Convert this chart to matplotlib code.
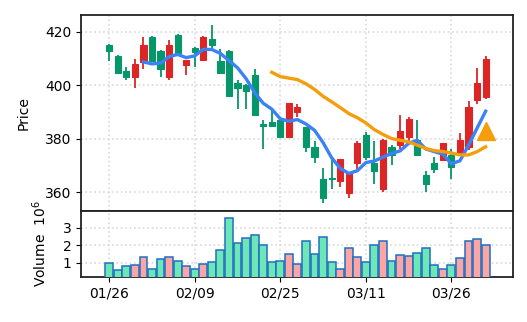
import matplotlib
matplotlib.use('Agg')
import matplotlib.pyplot as plt
import numpy as np
import pandas as pd

# ---- data (index = trading day) ----
opens = [415.2, 410.9, 405.2, 402.9, 408.7, 418.2, 412.9, 402.9, 418.9, 407.7,
         414.0, 409.6, 417.2, 409.2, 412.9, 400.9, 400.1, 404.0, 385.3, 386.1,
         386.9, 380.8, 389.8, 384.2, 376.9, 365.0, 365.2, 364.2, 359.8, 370.7,
         381.3, 371.0, 361.0, 376.9, 377.8, 380.7, 379.4, 366.3, 371.0, 371.9,
         373.9, 374.7, 376.7, 394.4, 395.6]
highs = [415.6, 411.2, 406.7, 409.7, 417.9, 418.5, 413.2, 416.9, 419.2, 409.6,
         414.3, 418.5, 422.6, 413.7, 413.2, 401.8, 400.6, 405.9, 387.0, 390.6,
         387.2, 393.5, 392.9, 384.5, 379.0, 369.0, 371.9, 372.5, 367.3, 379.0,
         382.3, 379.0, 379.7, 377.8, 388.8, 388.0, 386.9, 367.9, 373.0, 378.3,
         376.0, 382.0, 394.0, 406.6, 410.9]
lows = [409.0, 404.3, 401.9, 399.0, 406.2, 408.8, 403.1, 402.0, 411.8, 403.7,
        406.8, 409.3, 413.3, 404.5, 395.6, 391.0, 391.0, 388.5, 376.3, 384.2,
        380.6, 380.5, 388.1, 375.0, 371.0, 355.9, 361.3, 362.0, 357.9, 368.8,
        372.0, 363.2, 360.2, 370.2, 376.3, 378.2, 373.5, 360.2, 367.2, 371.6,
        365.0, 374.5, 375.7, 393.1, 395.0]
closes = [412.7, 404.7, 402.9, 408.1, 415.2, 409.1, 406.0, 415.2, 412.1, 409.3,
          412.4, 418.2, 414.9, 404.7, 395.9, 399.0, 397.8, 388.7, 384.9, 384.9,
          380.8, 393.2, 391.9, 376.7, 373.1, 357.7, 364.8, 372.2, 367.0, 378.2,
          373.0, 367.8, 379.4, 373.8, 383.0, 387.2, 373.7, 363.0, 368.8, 378.2,
          369.2, 379.4, 391.9, 400.9, 409.9]
volume_m = [0.96, 0.60, 0.79, 0.85, 1.31, 0.67, 1.19, 1.31, 1.08, 0.79,
            0.67, 0.90, 1.02, 1.71, 3.54, 2.12, 2.40, 2.58, 2.00, 1.02,
            1.08, 1.48, 0.90, 2.23, 1.50, 2.46, 1.02, 0.67, 1.83, 1.35,
            1.02, 2.00, 2.23, 1.10, 1.42, 1.37, 1.54, 1.83, 0.85, 0.65,
            0.85, 1.25, 2.23, 2.35, 2.00]
tick_pos = [0, 10, 20, 30, 40]
tick_labels = ['01/26', '02/09', '02/25', '03/11', '03/26']
signal_idx = 44
signal_price = 383.0

# ---- colours ----
UP = '#dc2626'
DOWN = '#059669'
VOL_UP = '#fca5a5'
VOL_DOWN = '#6ee7b7'
VOL_EDGE = '#1f6fc4'
MA5_C = '#3b82f6'
MA20_C = '#f59e0b'
GRID = dict(color='#d9d9d9', linestyle=':', linewidth=1.2)

df = pd.DataFrame({'open': opens, 'high': highs, 'low': lows,
                   'close': closes, 'vol': volume_m})
x = np.arange(len(df))
up = df['close'] >= df['open']
col = np.where(up, UP, DOWN)
ma5 = df['close'].rolling(5).mean()
ma20 = df['close'].rolling(20).mean()

fig = plt.figure(figsize=(5.27, 3.22), dpi=100)
ax = fig.add_axes([0.1537, 0.3447, 0.8197, 0.6087])
axv = fig.add_axes([0.1537, 0.1398, 0.8197, 0.2049], sharex=ax)

# candles
ax.vlines(x, df['low'], df['high'], colors=col, linewidth=1.3, zorder=2)
body_lo = np.minimum(df['open'], df['close'])
body_h = np.maximum((df['close'] - df['open']).abs(), 0.3)
ax.bar(x, body_h, bottom=body_lo, width=0.72, color=col, edgecolor=col,
       linewidth=0.8, zorder=3)

# moving averages
ax.plot(x, ma5, color=MA5_C, linewidth=2.4, zorder=4)
ax.plot(x, ma20, color=MA20_C, linewidth=2.4, zorder=4)
ax.plot([signal_idx], [signal_price], marker='^', color=MA20_C,
        markersize=13, linestyle='none', zorder=5)

ax.set_ylim(352.9, 426.3)
ax.set_yticks([360, 380, 400, 420])
ax.set_ylabel('Price', fontsize=10, labelpad=10)
ax.grid(True, **GRID)
ax.set_axisbelow(True)
ax.tick_params(axis='x', bottom=False, labelbottom=False)
ax.tick_params(axis='y', labelsize=10, length=3.5)

# volume
axv.bar(x, df['vol'], width=0.92, color=np.where(up, VOL_UP, VOL_DOWN),
        edgecolor=VOL_EDGE, linewidth=1.1, zorder=3)
axv.set_ylim(0.19, 3.94)
axv.set_yticks([1, 2, 3])
axv.set_ylabel('Volume  $10^{6}$', fontsize=10, labelpad=10)
axv.grid(True, **GRID)
axv.set_axisbelow(True)
axv.set_xticks(tick_pos)
axv.set_xticklabels(tick_labels)
axv.tick_params(labelsize=10, length=3.5)
axv.set_xlim(-3.3, 47.2)

for a in (ax, axv):
    for s in a.spines.values():
        s.set_linewidth(1.3)
        s.set_color('#222222')

fig.savefig('out.png', dpi=100)
